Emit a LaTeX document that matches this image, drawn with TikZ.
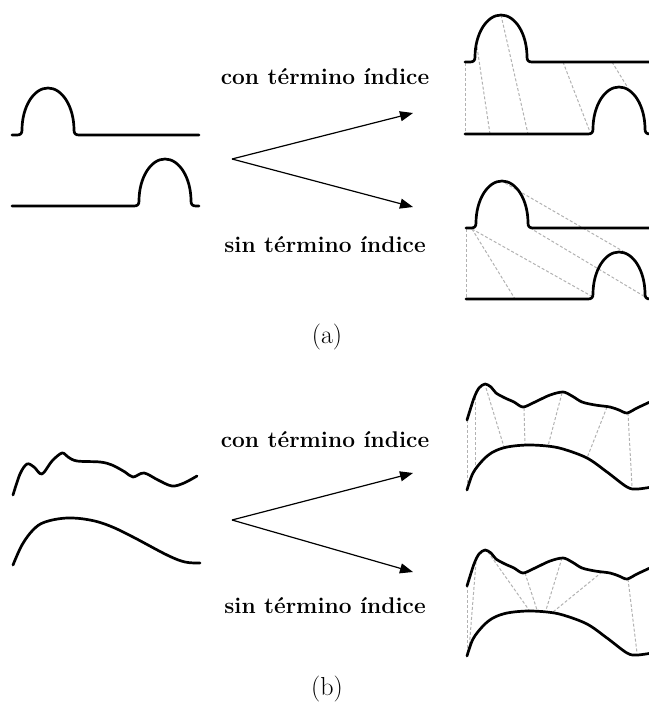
\documentclass[tikz,border=0pt]{standalone}
\usetikzlibrary{arrows.meta}
\begin{document}
\begin{tikzpicture}[x=1pt,y=-1pt,
  curve/.style={line width=2.7pt,line cap=round,line join=round},
  match/.style={gray!60,line width=1pt,dash pattern=on 3pt off 2pt},
  arr/.style={line width=1.2pt,-{Triangle[length=13pt,width=10pt]}},
  lbl/.style={font=\fontsize{22.7}{27}\selectfont\bfseries,inner sep=0pt},
  captxt/.style={font=\fontsize{26}{30}\selectfont,inner sep=0pt},
  bump/.style 2 args={insert path={
    -- ({#1-5},#2) .. controls ({#1-1.5},#2) and (#1,{#2-1.5}) .. (#1,{#2-5})
    .. controls (#1,{#2-28}) and ({#1+11.6},{#2-47}) .. ({#1+26},{#2-47})
    .. controls ({#1+40.4},{#2-47}) and ({#1+52},{#2-28}) .. ({#1+52},{#2-5})
    .. controls ({#1+52},{#2-1.5}) and ({#1+53.5},#2) .. ({#1+57},#2)}}]
\useasboundingbox (0,0) rectangle (648,706);

% ---------------- (a) ----------------
\draw[curve] (12,135) [bump={22}{135}] -- (199,135);
\draw[curve] (12,206) [bump={139}{206}] -- (199,206);

\coordinate (ao) at (232,159);
\coordinate (at) at (413,113);
\coordinate (ab) at (413,207);
\draw[arr] (ao) -- (at);
\draw[arr] (ao) -- (ab);
\node[lbl] (acon) at (325,77) {con término índice};
\node[lbl] (asin) at (325,245) {sin término índice};

% upper right (a)
\draw[match] (465,63) -- (465,134);
\draw[match] (477,47) -- (490,134);
\draw[match] (501,15) -- (528,134);
\draw[match] (563,62) -- (590,132);
\draw[match] (612,62) -- (628,88);
\draw[curve] (465,62) [bump={475}{62}] -- (652,62);
\draw[curve] (465,134) [bump={593}{134}];

% lower right (a)
\draw[match] (466,229) -- (466,299);
\draw[match] (472,229) -- (515,299);
\draw[match] (472,229) -- (593,297);
\draw[match] (505,183) -- (633,257);
\draw[match] (530,228) -- (647,298);
\draw[curve] (466,228) [bump={476}{228}] -- (652,228);
\draw[curve] (466,299) [bump={593}{299}];

\node[captxt] (capa) at (327,337) {(a)};

% ---------------- (b) ----------------
\draw[curve] plot[smooth,tension=0.55] coordinates {
  (13,495) (20,474) (27,464) (34,467) (42,474) (52,461) (62,453) (68,457)
  (77,461) (100,462) (112,465) (125,472) (133,477) (144,473) (158,480)
  (172,486) (184,483) (197,476)};
\draw[curve] plot[smooth,tension=0.6] coordinates {
  (13,565) (22,545) (33,530) (45,522) (67,518) (90,520) (110,526)
  (133,537) (167,555) (185,562) (200,563)};

\coordinate (bo) at (232,520);
\coordinate (bt) at (413,473);
\coordinate (bb) at (413,572);
\draw[arr] (bo) -- (bt);
\draw[arr] (bo) -- (bb);
\node[lbl] (bcon) at (325,440) {con término índice};
\node[lbl] (bsin) at (325,606) {sin término índice};

% upper right (b)
\draw[match] (467,420) -- (467,490);
\draw[match] (475,397) -- (475,467);
\draw[match] (486,388) -- (504,447);
\draw[match] (524,408) -- (525,445);
\draw[match] (562,393) -- (548,446);
\draw[match] (607,407) -- (587,458);
\draw[match] (628,413) -- (632,487);

% lower right (b)
\draw[match] (467,585) -- (467,656);
\draw[match] (476,562) -- (469,650);
\draw[match] (488,552) -- (529,610);
\draw[match] (525,573) -- (537,610);
\draw[match] (562,558) -- (546,610);
\draw[match] (602,572) -- (553,612);
\draw[match] (628,579) -- (637,653);

\foreach \dy in {0,166}{
  \begin{scope}[yshift=-\dy pt]
  \draw[curve] plot[smooth,tension=0.5] coordinates {
    (467,420) (474,398) (479,388) (485,384) (491,387) (496,393) (505,398)
    (514,402) (523,407) (535,402) (550,395) (563,392) (572,396) (582,402)
    (595,405) (610,407) (619,410) (627,413) (637,408) (652,401)};
  \draw[curve] plot[smooth,tension=0.55] coordinates {
    (467,490) (473,473) (483,460) (493,452) (507,447) (527,445) (547,446)
    (563,449) (587,458) (607,472) (627,487) (637,489) (652,487)};
  \end{scope}
}

\node[captxt] (capb) at (327,689) {(b)};
\end{tikzpicture}
\end{document}
